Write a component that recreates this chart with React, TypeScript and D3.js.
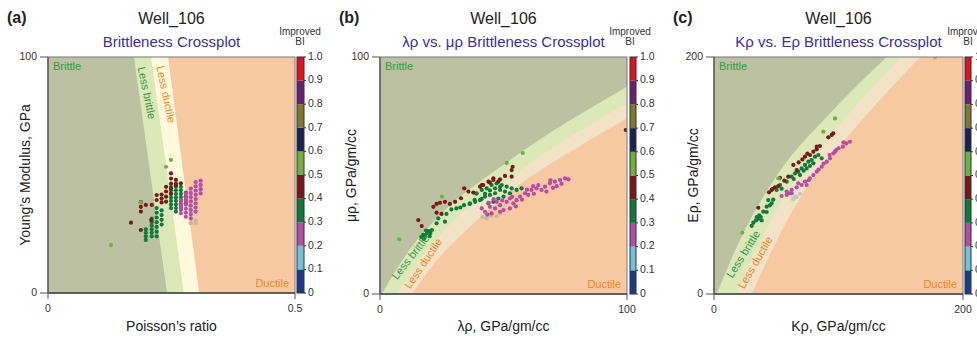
import React from 'react';
import * as d3 from 'd3';

type P = [number, number];

// ---------- Improved BI colour bar ----------
const biTicks = [0, 0.1, 0.2, 0.3, 0.4, 0.5, 0.6, 0.7, 0.8, 0.9, 1.0];
const biTickLabels = ['0', '0.1', '0.2', '0.3', '0.4', '0.5', '0.6', '0.7', '0.8', '0.9', '1.0'];
const biColors = ['#1b3a8e', '#6dc4dc', '#b34da6', '#0d7a3c', '#7a1616', '#6cb33e', '#1c2152', '#7d7a2b', '#6b1f74', '#e3101f'];

// ---------- Panel (a): Poisson's ratio vs Young's modulus ----------
const aXTicks = [0, 0.5];
const aXTickLabels = ['0', '0.5'];
const aYTicks = [0, 100];
const aBrittleEdge: P[] = [[0.241, 0], [0.174, 100]];
const aMidEdge: P[] = [[0.275, 0], [0.2085, 100]];
const aDuctileEdge: P[] = [[0.306, 0], [0.243, 100]];
const aGreen: P[] = [
  [0.198, 22.5], [0.198, 24], [0.198, 25.5], [0.198, 27],
  [0.21, 24], [0.21, 25.5], [0.21, 27], [0.21, 28.5], [0.21, 30], [0.21, 31.5],
  [0.22, 24], [0.22, 26], [0.22, 28], [0.22, 30], [0.22, 32], [0.22, 34], [0.22, 36],
  [0.23, 29], [0.23, 31], [0.23, 33], [0.23, 35],
  [0.249, 36], [0.249, 37.5], [0.249, 39], [0.249, 40.5], [0.249, 42], [0.249, 43.5], [0.249, 45],
  [0.259, 34.5], [0.259, 36], [0.259, 37.5], [0.259, 39], [0.259, 40.5], [0.259, 42], [0.259, 43.5], [0.259, 45], [0.259, 46.5],
  [0.269, 36], [0.269, 37.5], [0.269, 39], [0.269, 40.5], [0.269, 42], [0.269, 43.5], [0.269, 45],
  [0.279, 38], [0.279, 39.5], [0.279, 41], [0.279, 42.5],
];
const aRed: P[] = [
  [0.168, 29.8], [0.188, 34.5], [0.188, 36.5], [0.188, 38.5], [0.188, 26.7], [0.198, 37.3],
  [0.21, 37.3], [0.209, 30.9], [0.22, 39.4], [0.22, 41.5], [0.23, 38.4], [0.23, 40], [0.23, 41.7],
  [0.239, 38.7], [0.239, 40.8], [0.239, 43], [0.239, 45], [0.249, 42.2], [0.249, 44.3], [0.249, 46.4],
  [0.249, 48.5], [0.249, 50.7], [0.259, 45.7], [0.259, 47.9], [0.269, 46.5],
];
const aMagenta: P[] = [
  [0.269, 33.8], [0.269, 35.2], [0.269, 36.6], [0.269, 38], [0.269, 39.4],
  [0.279, 32.3], [0.279, 34], [0.279, 35.7], [0.279, 37.4], [0.279, 39], [0.279, 40.6], [0.279, 42.2],
  [0.289, 31.6], [0.289, 33.4], [0.289, 35.2], [0.289, 37], [0.289, 38.8], [0.289, 40.6], [0.289, 42.4], [0.289, 44.2],
  [0.299, 34.5], [0.299, 36.2], [0.299, 38], [0.299, 39.8], [0.299, 41.6], [0.299, 43.4], [0.299, 45.2], [0.299, 47],
  [0.309, 42.2], [0.309, 44], [0.309, 45.8], [0.309, 47.6],
];
const aLime: P[] = [[0.1275, 20.3], [0.239, 53.5], [0.249, 56.4], [0.1876, 38.4]];
const aPale: P[] = [[0.289, 29.6], [0.299, 29.5], [0.299, 30.6]];

// ---------- Panel (b): lambda-rho vs mu-rho ----------
const bXTicks = [0, 100];
const bXTickLabels = ['0', '100'];
const bYTicks = [0, 100];
const bBrittleEdge: P[] = [[0.7, 0], [10.8, 17], [23, 32], [50.6, 55], [75, 72], [100, 87.5]];
const bMidEdge: P[] = [[6.7, 0], [16, 14], [28, 29], [50, 47], [75, 65], [100, 80.5]];
const bDuctileEdge: P[] = [[12.9, 0], [22, 13], [35, 27], [55, 45], [77, 60], [100, 74.1]];
const bLime: P[] = [[7.8, 23.1], [25.1, 41.1], [51.3, 55.3], [57.8, 59.5]];
const bRed: P[] = [
  [99.5, 69.2], [15.5, 31.2], [16.9, 28.7], [21.6, 36.8], [22.9, 38.0], [24.3, 38.5], [26.3, 38.9],
  [28.3, 38.0], [30.4, 38.9], [32.8, 40.4], [34.1, 44.6], [35.8, 43.2], [22.9, 34.3], [24.9, 33.8],
  [37.8, 42.8], [41.2, 46.0], [44.5, 47.0], [45.9, 48.1], [47.9, 47.4], [53.7, 53.7], [53.3, 52.3],
  [50.6, 49.8], [53.3, 49.5], [45.9, 48.8], [48.6, 48.4], [41.8, 46.0], [40.5, 45.3], [43.9, 47.4],
];
const bGreen: P[] = [
  [16.7, 24.0], [17.5, 25], [18.2, 24.5], [19.0, 25.7], [19.6, 26.5], [20.4, 25.7], [21.0, 27.0],
  [18.6, 26.8], [17.8, 23.2], [20.1, 24.4], [22.9, 29.8], [23.6, 31.9], [26.3, 30.5], [26.9, 33.8],
  [28.9, 35.7], [30.9, 36.1], [36.3, 38.0], [38.3, 39.7], [39.0, 42.3], [41.2, 40.1], [42.5, 42.3],
  [44.5, 43.7], [46.6, 44.6], [48.6, 45.3], [39.1, 42.5], [41.2, 43.9], [43.2, 44.6], [45.2, 46.0],
  [47.2, 46.7], [49.3, 46.0], [51.3, 45.3], [53.3, 44.6], [55.3, 43.9], [57.3, 44.6], [40.5, 39.6],
  [42.5, 41.1], [44.5, 41.8], [46.6, 42.5], [48.6, 43.9], [50.6, 43.2], [52.6, 42.5], [45.9, 38.9],
  [47.9, 40.3], [50.0, 41.1], [43.9, 38.2], [38.5, 38.9], [36.4, 38.2], [34, 37.5], [32.5, 36.5],
];
const bMagenta: P[] = [
  [41.2, 36.1], [42.5, 34.7], [44.5, 36.8], [46.6, 36.1], [48.6, 37.5], [50.0, 35.4], [51.3, 38.9],
  [52.6, 40.3], [54.0, 38.2], [55.3, 39.6], [56.7, 41.1], [58.7, 42.5], [60.0, 41.8], [61.3, 43.9],
  [63.4, 44.6], [65.4, 43.9], [66.8, 45.3], [68.8, 46.7], [70.8, 47.4], [72.9, 48.1], [74.9, 48.8],
  [76.3, 48.4], [67.4, 43.2], [64.1, 46.0], [47.2, 38.9], [45.2, 34.0], [48.6, 34.7], [52.6, 36.1],
  [43.5, 33.5], [49.5, 39.5], [53.5, 41], [57.5, 39.8], [59.5, 44], [62.3, 42.3], [70, 44.8],
  [73.5, 46.5], [44, 38.5], [46, 40], [55, 37], [62, 45.5], [69, 48], [71.5, 45.5],
];
const bPale: P[] = [[41.5, 32.5], [43.2, 32.0], [45, 33], [47.2, 32.8], [48.6, 34.0]];

// ---------- Panel (c): K-rho vs E-rho ----------
const cXTicks = [0, 200];
const cXTickLabels = ['0', '200'];
const cYTicks = [0, 200];
const cBrittleEdge: P[] = [[2.2, 0], [20.9, 45.6], [51.7, 101.8], [93.2, 152.5], [138.7, 200]];
const cMidEdge: P[] = [[18.2, 0], [35, 40], [60, 88], [100, 142], [150.7, 200]];
const cDuctileEdge: P[] = [[30.3, 0], [48, 40], [72, 86], [110, 136], [165.5, 200]];
const cLime: P[] = [[22.7, 51.7], [51.7, 97.6], [87.8, 137], [97.2, 148.2]];
const cOrange: P[] = [[177.5, 199.7]];
const cRed: P[] = [
  [35.6, 72.8], [46.3, 87.8], [48.9, 90.0], [51.6, 91.1], [56.5, 95.6], [59.7, 99.0], [63.7, 108.9],
  [66.4, 104.6], [71.0, 113.6], [73.1, 115.9], [77.1, 117.3], [79.8, 120.1], [82.5, 122.1],
  [85.1, 124.9], [82.5, 124.3], [91.8, 132.2], [94.5, 134.2], [95.8, 135.6], [44.2, 85.8],
  [46.9, 88.6], [53, 98], [68, 111], [75, 118.5],
];
const cGreen: P[] = [
  [35.6, 65.3], [39.6, 69.5], [42.3, 73.7], [43.6, 79.3], [46.3, 76.5], [50.3, 87.8], [53.0, 92.0],
  [58.4, 94.8], [62.4, 99.0], [65.1, 101.8], [67.7, 103.2], [70.4, 106.0], [73.1, 108.9], [75.8, 111.7],
  [78.4, 113.1], [81.1, 115.9], [83.8, 117.3], [86.5, 114.5], [79.8, 110.3], [74.4, 106.0], [69.1, 100.4],
  [31.6, 60.2], [33.7, 62.1], [35.6, 63.6], [37.5, 65.0], [34.3, 65.0], [36.4, 66.4], [38.3, 62.1],
  [30.3, 57.5], [42.3, 69.2], [44.9, 74.8], [47.6, 79.6], [54.3, 88.9], [72, 104], [77, 108], [64, 97],
];
const cMagenta: P[] = [
  [54.3, 82.7], [58.4, 86.4], [62.4, 87.8], [66.4, 90.0], [70.4, 92.0], [73.1, 94.8], [77.1, 97.6],
  [79.8, 100.4], [82.5, 103.2], [86.5, 107.4], [90.5, 111.7], [93.2, 114.5], [95.8, 118.7], [97.2, 120.1],
  [67.7, 93.4], [74.4, 92.0], [62.4, 85.0], [92.8, 117.3], [98.1, 121.5], [103.5, 124.3], [106.2, 127.1],
  [109.2, 128.5], [61.0, 85.0], [58.4, 83.6], [100, 123], [104, 128], [88, 110], [84, 105], [76, 96],
];
const cPale: P[] = [[66.4, 81.9], [69.1, 84.7], [65.1, 82.1], [63.5, 80]];

// ---------- styling ----------
const FONT = 'Liberation Sans, Arial, Helvetica, sans-serif';
const COL = {
  brittle: '#bcc1a2', lessB: '#dde8b9', lessDA: '#fdf9db', lessD: '#f2e3c7', ductile: '#f7c9a3',
  green: '#0f7a3b', red: '#7a1a16', magenta: '#b84ba6', lime: '#6cb33e', paleB: '#c8b99c', paleC: '#bccbbd',
  orange: '#dca520', title: '#3b2f9e', textG: '#2e9d46', textO: '#f0862a',
};

type Series = { pts: P[]; color: string };
type Label = { text: string; at: P; angle: number; color: string };
type Cfg = {
  letter: string; sub: string; xTitle: string; yTitle: string; yTitleX: number;
  left: number; right: number; top: number; bottom: number; xMax: number; yMax: number;
  xTicks: number[]; xTickLabels: string[]; yTicks: number[];
  edges: P[][]; lessDColor: string; curved: boolean; series: Series[]; labels: Label[];
  cbLeft: number; cbRight: number; biCenter: number;
};

const panels: Cfg[] = [
  {
    letter: '(a)', sub: 'Brittleness Crossplot', xTitle: 'Poisson’s ratio', yTitle: 'Young’s Modulus, GPa', yTitleX: 26,
    left: 48, right: 295, top: 57, bottom: 293, xMax: 0.5, yMax: 100,
    xTicks: aXTicks, xTickLabels: aXTickLabels, yTicks: aYTicks,
    edges: [aDuctileEdge, aMidEdge, aBrittleEdge], lessDColor: COL.lessDA, curved: false,
    series: [
      { pts: aPale, color: COL.paleB }, { pts: aGreen, color: COL.green }, { pts: aMagenta, color: COL.magenta },
      { pts: aRed, color: COL.red }, { pts: aLime, color: COL.lime },
    ],
    labels: [
      { text: 'Less brittle', at: [0.198, 84.7], angle: 78, color: COL.textG },
      { text: 'Less ductile', at: [0.237, 84.1], angle: 78, color: COL.textO },
    ],
    cbLeft: 297, cbRight: 304, biCenter: 300,
  },
  {
    letter: '(b)', sub: 'λρ vs. μρ Brittleness Crossplot', xTitle: 'λρ, GPa/gm/cc', yTitle: 'μρ, GPa/gm/cc', yTitleX: 352,
    left: 380, right: 627, top: 57, bottom: 294, xMax: 100, yMax: 100,
    xTicks: bXTicks, xTickLabels: bXTickLabels, yTicks: bYTicks,
    edges: [bDuctileEdge, bMidEdge, bBrittleEdge], lessDColor: COL.lessD, curved: true,
    series: [
      { pts: bPale, color: COL.paleB }, { pts: bGreen, color: COL.green }, { pts: bMagenta, color: COL.magenta },
      { pts: bRed, color: COL.red }, { pts: bLime, color: COL.lime },
    ],
    labels: [
      { text: 'Less brittle', at: [12.6, 15.4], angle: -52, color: COL.textG },
      { text: 'Less ductile', at: [17.8, 12.7], angle: -56, color: COL.textO },
    ],
    cbLeft: 630, cbRight: 636, biCenter: 630,
  },
  {
    letter: '(c)', sub: 'Kρ vs. Eρ Brittleness Crossplot', xTitle: 'Kρ, GPa/gm/cc', yTitle: 'Eρ, GPa/gm/cc', yTitleX: 694,
    left: 714, right: 963, top: 57, bottom: 294, xMax: 200, yMax: 200,
    xTicks: cXTicks, xTickLabels: cXTickLabels, yTicks: cYTicks,
    edges: [cDuctileEdge, cMidEdge, cBrittleEdge], lessDColor: COL.lessD, curved: true,
    series: [
      { pts: cPale, color: COL.paleC }, { pts: cGreen, color: COL.green }, { pts: cMagenta, color: COL.magenta },
      { pts: cRed, color: COL.red }, { pts: cLime, color: COL.lime }, { pts: cOrange, color: COL.orange },
    ],
    labels: [
      { text: 'Less brittle', at: [24.1, 33.3], angle: -58, color: COL.textG },
      { text: 'Less ductile', at: [33.7, 26.2], angle: -60, color: COL.textO },
    ],
    cbLeft: 965, cbRight: 971, biCenter: 968,
  },
];

function Panel({ cfg, idx }: { cfg: Cfg; idx: number }) {
  const x = d3.scaleLinear().domain([0, cfg.xMax]).range([cfg.left, cfg.right]);
  const y = d3.scaleLinear().domain([0, cfg.yMax]).range([cfg.bottom, cfg.top]);
  const line = d3.line<P>().x((d) => x(d[0])).y((d) => y(d[1]))
    .curve(cfg.curved ? d3.curveMonotoneX : d3.curveLinear);
  const region = (b: P[]) => {
    const last = b[b.length - 1];
    const corners: P[] = [];
    if (last[0] >= cfg.xMax) corners.push([cfg.xMax, cfg.yMax]);
    corners.push([0, cfg.yMax], [0, 0]);
    return line(b) + corners.map((c) => `L${x(c[0])},${y(c[1])}`).join('') + 'Z';
  };
  const regionColors = [cfg.lessDColor, COL.lessB, COL.brittle];
  const cb = d3.scaleLinear().domain([0, 1]).range([cfg.bottom, cfg.top]);
  const cx = (cfg.left + cfg.right) / 2;
  const cy = (cfg.top + cfg.bottom) / 2;
  const clipId = `clip${idx}`;
  return (
    <g>
      <defs>
        <clipPath id={clipId}>
          <rect x={cfg.left} y={cfg.top} width={cfg.right - cfg.left} height={cfg.bottom - cfg.top} />
        </clipPath>
      </defs>
      {/* titles */}
      <text x={cfg.left - 41} y={23} fontSize={16} fontWeight="bold" fill="#222">{cfg.letter}</text>
      <text x={cx} y={24} fontSize={16} textAnchor="middle" fill="#222">Well_106</text>
      <text x={cx} y={46.5} fontSize={15} textAnchor="middle" fill={COL.title}>{cfg.sub}</text>
      <text x={cfg.biCenter} y={35} fontSize={10} textAnchor="middle" fill="#333">Improved</text>
      <text x={cfg.biCenter} y={45} fontSize={10} textAnchor="middle" fill="#333">BI</text>

      {/* plot background regions */}
      <g clipPath={`url(#${clipId})`}>
        <rect x={cfg.left} y={cfg.top} width={cfg.right - cfg.left} height={cfg.bottom - cfg.top} fill={COL.ductile} />
        {cfg.edges.map((e, i) => (
          <path key={i} d={region(e)} fill={regionColors[i]} />
        ))}
        {cfg.series.map((s, i) => (
          <g key={i}>
            {s.pts.map((p, j) => (
              <circle key={j} cx={x(p[0])} cy={y(p[1])} r={2.1} fill={s.color} />
            ))}
          </g>
        ))}
      </g>

      {/* region labels */}
      <text x={cfg.left + 5} y={cfg.top + 13} fontSize={11} fill={COL.textG}>Brittle</text>
      <text x={cfg.right - 6} y={cfg.bottom - 6} fontSize={11} textAnchor="end" fill={COL.textO}>Ductile</text>
      {cfg.labels.map((l, i) => (
        <text key={i} x={x(l.at[0])} y={y(l.at[1])} fontSize={11} fill={l.color} textAnchor="middle"
          dominantBaseline="middle" transform={`rotate(${l.angle},${x(l.at[0])},${y(l.at[1])})`}>{l.text}</text>
      ))}

      {/* frame and axes */}
      <rect x={cfg.left} y={cfg.top} width={cfg.right - cfg.left} height={cfg.bottom - cfg.top} fill="none" stroke="#777" strokeWidth={1} />
      <line x1={cfg.left} x2={cfg.right} y1={cfg.bottom} y2={cfg.bottom} stroke="#444" strokeWidth={1.6} />
      <line x1={cfg.left} x2={cfg.left} y1={cfg.top} y2={cfg.bottom} stroke="#555" strokeWidth={1.3} />
      {cfg.yTicks.map((t, i) => (
        <g key={i}>
          <line x1={cfg.left - 8} x2={cfg.left} y1={y(t)} y2={y(t)} stroke="#555" />
          <text x={cfg.left - 11} y={y(t)} fontSize={10.5} textAnchor="end" dominantBaseline="middle" fill="#333">{t}</text>
        </g>
      ))}
      {cfg.xTicks.map((t, i) => (
        <g key={i}>
          <line x1={x(t)} x2={x(t)} y1={cfg.bottom} y2={cfg.bottom + 6} stroke="#555" />
          <text x={x(t)} y={cfg.bottom + 19} fontSize={10.5} textAnchor="middle" fill="#333">{cfg.xTickLabels[i]}</text>
        </g>
      ))}
      <text x={cx} y={331} fontSize={14} textAnchor="middle" fill="#222">{cfg.xTitle}</text>
      <text x={cfg.yTitleX} y={cy} fontSize={14} textAnchor="middle" fill="#222"
        transform={`rotate(-90,${cfg.yTitleX},${cy})`} dominantBaseline="middle">{cfg.yTitle}</text>

      {/* colour bar */}
      {biColors.map((c, i) => (
        <rect key={i} x={cfg.cbLeft} y={cb(biTicks[i + 1])} width={cfg.cbRight - cfg.cbLeft}
          height={cb(biTicks[i]) - cb(biTicks[i + 1])} fill={c} />
      ))}
      <rect x={cfg.cbLeft} y={cfg.top} width={cfg.cbRight - cfg.cbLeft} height={cfg.bottom - cfg.top} fill="none" stroke="#333" strokeWidth={1} />
      {biTicks.map((t, i) => (
        <g key={i}>
          <line x1={cfg.cbRight} x2={cfg.cbRight + 2} y1={cb(t)} y2={cb(t)} stroke="#333" />
          <text x={cfg.cbRight + 4} y={cb(t)} fontSize={10.5} dominantBaseline="middle" fill="#333">{biTickLabels[i]}</text>
        </g>
      ))}
    </g>
  );
}

export default function App() {
  return (
    <svg width={977} height={338} style={{ position: 'absolute', left: 0, top: 0, background: '#fff' }}
      fontFamily={FONT}>
      <rect width={977} height={338} fill="#fff" />
      {panels.map((p, i) => <Panel key={i} cfg={p} idx={i} />)}
    </svg>
  );
}
